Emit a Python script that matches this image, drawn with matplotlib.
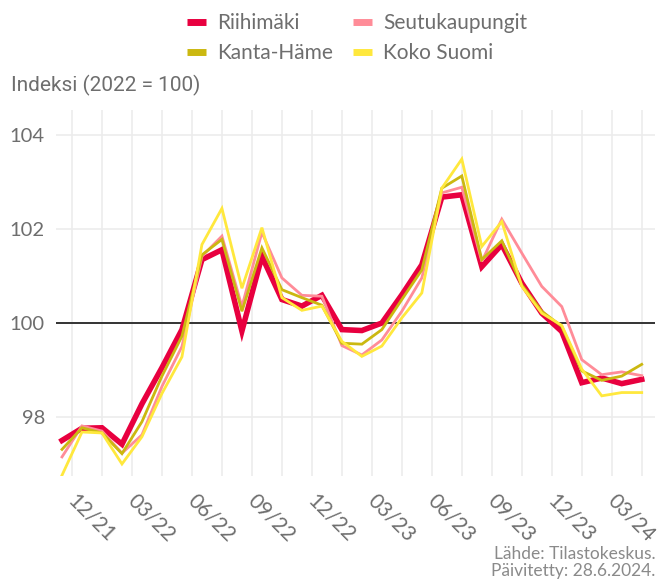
import numpy as np
import matplotlib
matplotlib.use("Agg")
import matplotlib.pyplot as plt

# Monthly index values, 11/2021 - 04/2024 (2022 = 100)
months = ["11/21", "12/21", "01/22", "02/22", "03/22", "04/22", "05/22", "06/22",
          "07/22", "08/22", "09/22", "10/22", "11/22", "12/22", "01/23", "02/23",
          "03/23", "04/23", "05/23", "06/23", "07/23", "08/23", "09/23", "10/23",
          "11/23", "12/23", "01/24", "02/24", "03/24", "04/24"]

riihimaki = [97.50, 97.76, 97.77, 97.42, 98.28, 99.05, 99.86, 101.35, 101.56, 99.83,
             101.42, 100.50, 100.36, 100.59, 99.86, 99.84, 100.00, 100.60, 101.24, 102.68,
             102.73, 101.20, 101.67, 100.85, 100.21, 99.82, 98.73, 98.83, 98.71, 98.80]
seutukaupungit = [97.15, 97.81, 97.70, 97.23, 97.62, 98.65, 99.50, 101.42, 101.85, 100.35,
                  101.93, 100.96, 100.59, 100.57, 99.52, 99.32, 99.64, 100.25, 100.96, 102.77,
                  102.89, 101.31, 102.21, 101.49, 100.78, 100.35, 99.22, 98.90, 98.96, 98.88]
kanta_hame = [97.31, 97.77, 97.66, 97.22, 97.90, 98.87, 99.72, 101.45, 101.78, 100.25,
              101.60, 100.71, 100.54, 100.38, 99.57, 99.55, 99.86, 100.50, 101.13, 102.87,
              103.13, 101.35, 101.75, 100.81, 100.25, 99.93, 98.98, 98.78, 98.87, 99.12]
koko_suomi = [96.76, 97.68, 97.66, 97.00, 97.58, 98.50, 99.28, 101.67, 102.44, 100.74,
              102.03, 100.54, 100.27, 100.36, 99.61, 99.29, 99.51, 100.11, 100.64, 102.87,
              103.49, 101.63, 102.16, 100.78, 100.21, 99.95, 99.02, 98.45, 98.52, 98.52]

series = [
    ("Riihimäki", riihimaki, "#e8003f", 4.0),
    ("Seutukaupungit", seutukaupungit, "#ff8c98", 2.0),
    ("Kanta-Häme", kanta_hame, "#cbb810", 2.0),
    ("Koko Suomi", koko_suomi, "#ffe83d", 2.0),
]

tick_labels = ["12/21", "03/22", "06/22", "09/22", "12/22", "03/23", "06/23",
               "09/23", "12/23", "03/24"]

grey = "#6e6e6e"
font = ["Lato", "DejaVu Sans"]

fig = plt.figure(figsize=(6.62, 5.80), dpi=100)
ax = fig.add_axes([0.0846, 0.179, 0.9044, 0.631])

x = np.arange(len(months))
lines = {}
for name, vals, col, lw in series:
    lines[name], = ax.plot(x, vals, color=col, lw=lw, solid_joinstyle="miter",
                           label=name, clip_on=True)

ax.axhline(100, color="#333333", lw=1.4, zorder=1)

ax.set_xlim(-0.3, 29.65)
ax.set_ylim(96.74, 104.53)

# vertical grid every 1.5 months
for gx in np.arange(20) * 1.5 + 0.5:
    ax.axvline(gx, color="#ececec", lw=1.2, zorder=0)

# labels sit between months (first of month), nudged a little right
ax.set_xticks(np.arange(len(tick_labels)) * 3 + 0.8)
ax.set_xticklabels(tick_labels, rotation=-45, ha="left", va="top",
                   rotation_mode="anchor", fontsize=15, color=grey, family=font)
ax.set_yticks([98, 100, 102, 104])
ax.set_yticklabels(["98", "100", "102", "104"], fontsize=14.5, color=grey, family=font)
ax.tick_params(axis="both", which="both", length=0)
ax.tick_params(axis="x", pad=10)
ax.tick_params(axis="y", pad=8)

ax.grid(axis="y", which="major", color="#ececec", lw=1.2)
ax.set_axisbelow(True)
for s in ax.spines.values():
    s.set_visible(False)

order = ["Riihimäki", "Kanta-Häme", "Seutukaupungit", "Koko Suomi"]
leg = fig.legend([lines[n] for n in order], order, ncol=2, loc="center",
                 bbox_to_anchor=(0.54, 0.934), frameon=False,
                 prop={"family": font, "size": 15}, labelcolor=grey,
                 handlelength=0.9, handletextpad=0.55, columnspacing=0.95,
                 labelspacing=0.5)
for h in leg.legend_handles:
    h.set_linewidth(5)
    h.set_solid_capstyle("butt")

fig.text(0.016, 0.853, "Indeksi (2022 = 100)", fontsize=15, color=grey,
         family=["Roboto", "DejaVu Sans"], va="center", ha="left")

fig.text(0.99, 0.03, "Lähde: Tilastokeskus.\nPäivitetty: 28.6.2024.",
         fontsize=12.5, color="#8a8a8a", family=font, ha="right", va="center",
         linespacing=1.05)

fig.savefig("out.png", dpi=100)
